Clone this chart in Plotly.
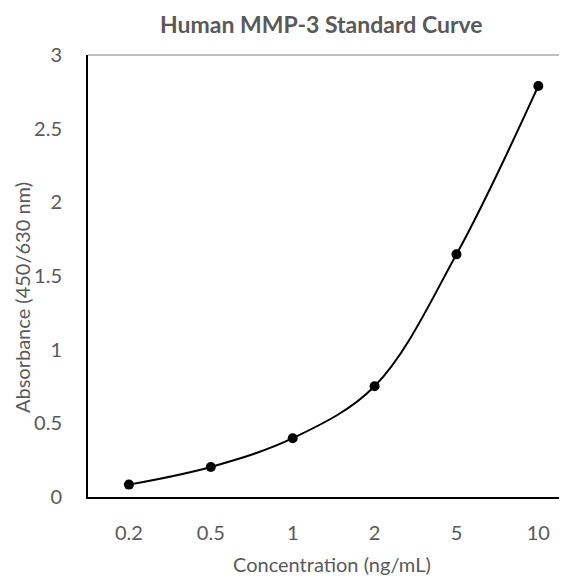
import plotly.graph_objects as go

concentrations = ["0.2", "0.5", "1", "2", "5", "10"]
absorbance = [0.084, 0.204, 0.399, 0.752, 1.647, 2.79]
y_ticks = [0, 0.5, 1, 1.5, 2, 2.5, 3]
y_tick_labels = ["0", "0.5", "1", "1.5", "2", "2.5", "3"]

FONT = "Lato, 'Open Sans', sans-serif"
GRAY = "#595959"

# page body has an 8px margin; compensate so the plot area lands at x 88-567, y 55-497
fig = go.Figure()
fig.add_trace(go.Scatter(
    x=concentrations, y=absorbance, mode="lines+markers",
    line=dict(color="black", width=2, shape="spline", smoothing=1),
    marker=dict(color="black", size=10),
    cliponaxis=False, showlegend=False,
))

PW, PH = 479, 442

fig.update_layout(
    width=559, height=568,
    margin=dict(l=80, r=0, t=47, b=79),
    paper_bgcolor="white", plot_bgcolor="white",
    font=dict(family=FONT, color=GRAY),
    xaxis=dict(
        type="category", range=[-0.5, 5.35],
        showgrid=False, zeroline=False,
        showline=True, linecolor="black", linewidth=2,
        ticks="outside", ticklen=17, tickcolor="rgba(0,0,0,0)",
        tickfont=dict(size=20, color=GRAY, family=FONT),
    ),
    yaxis=dict(
        range=[0, 3], tickvals=y_ticks, ticktext=y_tick_labels,
        showgrid=False, zeroline=False,
        showline=True, linecolor="black", linewidth=2,
        ticks="outside", ticklen=20, tickcolor="rgba(0,0,0,0)",
        tickfont=dict(size=20, color=GRAY, family=FONT),
    ),
    shapes=[dict(type="line", xref="paper", yref="paper", x0=0, x1=1, y0=1, y1=1,
                 line=dict(color="#7f7f7f", width=1))],
    annotations=[
        dict(text="<b>Human MMP-3 Standard Curve</b>", xref="paper", yref="paper",
             x=(321 - 88) / PW, y=1 + (55 - 24) / PH, xanchor="center", yanchor="middle",
             showarrow=False, font=dict(size=23, color=GRAY, family=FONT)),
        dict(text="Concentration (ng/mL)", xref="paper", yref="paper",
             x=(332 - 88) / PW, y=-(564 - 497) / PH, xanchor="center", yanchor="middle",
             showarrow=False, font=dict(size=20, color=GRAY, family=FONT)),
        dict(text="Absorbance (450/630 nm)", xref="paper", yref="paper",
             x=-(88 - 22) / PW, y=(497 - 298) / PH, xanchor="center", yanchor="middle",
             textangle=-90, showarrow=False, font=dict(size=20, color=GRAY, family=FONT)),
    ],
)

fig.write_html("out.html")
